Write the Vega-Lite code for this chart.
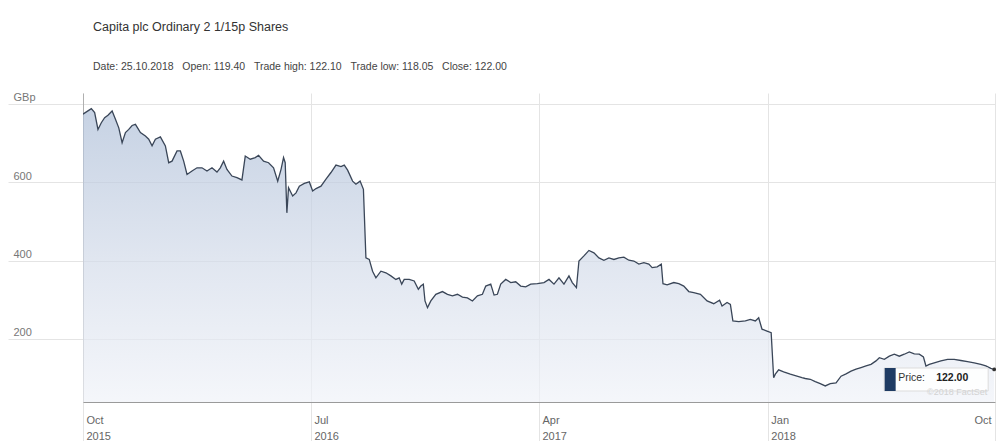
{
  "$schema": "https://vega.github.io/schema/vega-lite/v6.json",
  "width": 912,
  "height": 309,
  "padding": {"left": 7, "top": 20, "right": 2, "bottom": 0},
  "background": "white",
  "config": {"font": "Liberation Sans", "view": {"stroke": null}},
  "title": {
    "text": "\u00a0\u00a0Capita plc Ordinary 2 1/15p Shares",
    "subtitle": "Date: 25.10.2018\u00a0\u00a0\u00a0Open: 119.40\u00a0\u00a0\u00a0Trade high: 122.10\u00a0\u00a0\u00a0Trade low: 118.05\u00a0\u00a0\u00a0Close: 122.00",
    "anchor": "start",
    "frame": "group",
    "dx": 10,
    "offset": 19,
    "font": "Liberation Sans",
    "fontSize": 12.5,
    "fontWeight": "normal",
    "color": "#333333",
    "subtitleFont": "Liberation Sans",
    "subtitleFontSize": 10.5,
    "subtitleColor": "#444444",
    "subtitlePadding": 29
  },
  "data": {"values": [
    {"date": "2015-10-01", "price": 774}, {"date": "2015-10-11", "price": 788}, {"date": "2015-10-15", "price": 778},
    {"date": "2015-10-19", "price": 735}, {"date": "2015-10-23", "price": 752}, {"date": "2015-10-27", "price": 765},
    {"date": "2015-10-31", "price": 771}, {"date": "2015-11-05", "price": 782}, {"date": "2015-11-09", "price": 761},
    {"date": "2015-11-13", "price": 739}, {"date": "2015-11-17", "price": 701}, {"date": "2015-11-21", "price": 727},
    {"date": "2015-11-25", "price": 735}, {"date": "2015-11-29", "price": 745}, {"date": "2015-12-03", "price": 748},
    {"date": "2015-12-09", "price": 727}, {"date": "2015-12-15", "price": 718}, {"date": "2015-12-19", "price": 710},
    {"date": "2015-12-23", "price": 693}, {"date": "2015-12-27", "price": 710}, {"date": "2016-01-02", "price": 716},
    {"date": "2016-01-08", "price": 693}, {"date": "2016-01-12", "price": 650}, {"date": "2016-01-16", "price": 654},
    {"date": "2016-01-22", "price": 680}, {"date": "2016-01-26", "price": 680}, {"date": "2016-01-30", "price": 654},
    {"date": "2016-02-03", "price": 620}, {"date": "2016-02-09", "price": 629}, {"date": "2016-02-15", "price": 637},
    {"date": "2016-02-21", "price": 637}, {"date": "2016-02-27", "price": 629}, {"date": "2016-03-04", "price": 637},
    {"date": "2016-03-10", "price": 626}, {"date": "2016-03-14", "price": 637}, {"date": "2016-03-18", "price": 654},
    {"date": "2016-03-22", "price": 633}, {"date": "2016-03-28", "price": 616}, {"date": "2016-04-03", "price": 612},
    {"date": "2016-04-09", "price": 606}, {"date": "2016-04-13", "price": 667}, {"date": "2016-04-19", "price": 659},
    {"date": "2016-04-25", "price": 663}, {"date": "2016-04-29", "price": 669}, {"date": "2016-05-05", "price": 654},
    {"date": "2016-05-11", "price": 650}, {"date": "2016-05-17", "price": 637}, {"date": "2016-05-22", "price": 603},
    {"date": "2016-05-26", "price": 633}, {"date": "2016-05-29", "price": 663}, {"date": "2016-05-31", "price": 650},
    {"date": "2016-06-02", "price": 522}, {"date": "2016-06-04", "price": 586}, {"date": "2016-06-09", "price": 565},
    {"date": "2016-06-13", "price": 573}, {"date": "2016-06-17", "price": 590}, {"date": "2016-06-23", "price": 597},
    {"date": "2016-06-29", "price": 601}, {"date": "2016-07-03", "price": 578}, {"date": "2016-07-07", "price": 584},
    {"date": "2016-07-13", "price": 590}, {"date": "2016-07-19", "price": 608}, {"date": "2016-07-25", "price": 625},
    {"date": "2016-07-31", "price": 644}, {"date": "2016-08-06", "price": 640}, {"date": "2016-08-10", "price": 644},
    {"date": "2016-08-14", "price": 631}, {"date": "2016-08-20", "price": 603}, {"date": "2016-08-24", "price": 595},
    {"date": "2016-08-29", "price": 603}, {"date": "2016-09-02", "price": 582}, {"date": "2016-09-05", "price": 407},
    {"date": "2016-09-09", "price": 403}, {"date": "2016-09-13", "price": 373}, {"date": "2016-09-17", "price": 356},
    {"date": "2016-09-23", "price": 373}, {"date": "2016-09-29", "price": 369}, {"date": "2016-10-05", "price": 361},
    {"date": "2016-10-11", "price": 352}, {"date": "2016-10-15", "price": 356}, {"date": "2016-10-18", "price": 340},
    {"date": "2016-10-21", "price": 352}, {"date": "2016-10-27", "price": 352}, {"date": "2016-11-02", "price": 348},
    {"date": "2016-11-07", "price": 327}, {"date": "2016-11-10", "price": 335}, {"date": "2016-11-13", "price": 340},
    {"date": "2016-11-15", "price": 297}, {"date": "2016-11-18", "price": 280}, {"date": "2016-11-22", "price": 297},
    {"date": "2016-11-28", "price": 314}, {"date": "2016-12-06", "price": 321}, {"date": "2016-12-12", "price": 314},
    {"date": "2016-12-18", "price": 310}, {"date": "2016-12-24", "price": 314}, {"date": "2016-12-30", "price": 307},
    {"date": "2017-01-05", "price": 305}, {"date": "2017-01-11", "price": 297}, {"date": "2017-01-17", "price": 310},
    {"date": "2017-01-23", "price": 314}, {"date": "2017-01-27", "price": 335}, {"date": "2017-02-02", "price": 340},
    {"date": "2017-02-06", "price": 312}, {"date": "2017-02-10", "price": 314}, {"date": "2017-02-14", "price": 340},
    {"date": "2017-02-20", "price": 352}, {"date": "2017-02-26", "price": 344}, {"date": "2017-03-04", "price": 346},
    {"date": "2017-03-10", "price": 335}, {"date": "2017-03-16", "price": 333}, {"date": "2017-03-22", "price": 340},
    {"date": "2017-03-30", "price": 341}, {"date": "2017-04-07", "price": 344}, {"date": "2017-04-13", "price": 352},
    {"date": "2017-04-19", "price": 340}, {"date": "2017-04-25", "price": 356}, {"date": "2017-05-01", "price": 340},
    {"date": "2017-05-07", "price": 361}, {"date": "2017-05-11", "price": 344}, {"date": "2017-05-16", "price": 331},
    {"date": "2017-05-19", "price": 399}, {"date": "2017-05-25", "price": 412}, {"date": "2017-05-31", "price": 426},
    {"date": "2017-06-06", "price": 420}, {"date": "2017-06-12", "price": 407}, {"date": "2017-06-18", "price": 401},
    {"date": "2017-06-24", "price": 407}, {"date": "2017-06-30", "price": 403}, {"date": "2017-07-06", "price": 407},
    {"date": "2017-07-12", "price": 409}, {"date": "2017-07-18", "price": 401}, {"date": "2017-07-24", "price": 399},
    {"date": "2017-07-30", "price": 391}, {"date": "2017-08-05", "price": 395}, {"date": "2017-08-11", "price": 391},
    {"date": "2017-08-15", "price": 382}, {"date": "2017-08-21", "price": 384}, {"date": "2017-08-26", "price": 391},
    {"date": "2017-08-28", "price": 341}, {"date": "2017-09-02", "price": 338}, {"date": "2017-09-10", "price": 344},
    {"date": "2017-09-16", "price": 341}, {"date": "2017-09-22", "price": 335}, {"date": "2017-09-28", "price": 321},
    {"date": "2017-10-04", "price": 318}, {"date": "2017-10-12", "price": 314}, {"date": "2017-10-20", "price": 297},
    {"date": "2017-10-28", "price": 290}, {"date": "2017-11-04", "price": 299}, {"date": "2017-11-07", "price": 284},
    {"date": "2017-11-13", "price": 293}, {"date": "2017-11-17", "price": 288}, {"date": "2017-11-20", "price": 246},
    {"date": "2017-11-27", "price": 244}, {"date": "2017-12-05", "price": 246}, {"date": "2017-12-11", "price": 250},
    {"date": "2017-12-17", "price": 246}, {"date": "2017-12-21", "price": 254}, {"date": "2017-12-25", "price": 225},
    {"date": "2017-12-31", "price": 220}, {"date": "2018-01-05", "price": 216}, {"date": "2018-01-08", "price": 101},
    {"date": "2018-01-10", "price": 110}, {"date": "2018-01-14", "price": 121}, {"date": "2018-01-20", "price": 116},
    {"date": "2018-01-28", "price": 110}, {"date": "2018-02-05", "price": 105}, {"date": "2018-02-11", "price": 101},
    {"date": "2018-02-15", "price": 99}, {"date": "2018-02-21", "price": 97}, {"date": "2018-02-27", "price": 91},
    {"date": "2018-03-05", "price": 86}, {"date": "2018-03-11", "price": 80}, {"date": "2018-03-17", "price": 86},
    {"date": "2018-03-24", "price": 88}, {"date": "2018-03-30", "price": 105}, {"date": "2018-04-05", "price": 111},
    {"date": "2018-04-11", "price": 118}, {"date": "2018-04-17", "price": 123}, {"date": "2018-04-23", "price": 127},
    {"date": "2018-04-29", "price": 131}, {"date": "2018-05-05", "price": 135}, {"date": "2018-05-11", "price": 144},
    {"date": "2018-05-15", "price": 152}, {"date": "2018-05-21", "price": 148}, {"date": "2018-05-27", "price": 156},
    {"date": "2018-06-02", "price": 161}, {"date": "2018-06-08", "price": 156}, {"date": "2018-06-14", "price": 161},
    {"date": "2018-06-20", "price": 167}, {"date": "2018-06-26", "price": 162}, {"date": "2018-07-02", "price": 161},
    {"date": "2018-07-07", "price": 154}, {"date": "2018-07-10", "price": 131}, {"date": "2018-07-14", "price": 135},
    {"date": "2018-07-20", "price": 139}, {"date": "2018-07-28", "price": 144}, {"date": "2018-08-05", "price": 148},
    {"date": "2018-08-13", "price": 148}, {"date": "2018-08-21", "price": 145}, {"date": "2018-08-29", "price": 142},
    {"date": "2018-09-06", "price": 139}, {"date": "2018-09-14", "price": 135}, {"date": "2018-09-20", "price": 131},
    {"date": "2018-09-26", "price": 125}, {"date": "2018-09-30", "price": 122}
  ]},
  "encoding": {
    "x": {
      "field": "date", "type": "temporal",
      "scale": {"type": "utc", "domain": [{"year": 2015, "month": 10, "date": 1, "utc": true}, {"year": 2018, "month": 10, "date": 1, "utc": true}]},
      "axis": {
        "title": null,
        "values": [
          {"year": 2015, "month": 10, "date": 1, "utc": true},
          {"year": 2016, "month": 7, "date": 1, "utc": true},
          {"year": 2017, "month": 4, "date": 1, "utc": true},
          {"year": 2018, "month": 1, "date": 1, "utc": true},
          {"year": 2018, "month": 10, "date": 1, "utc": true}
        ],
        "labelExpr": "datum.value > 1530000000000 ? 'Oct' : [utcFormat(datum.value, '%b'), utcFormat(datum.value, '%Y')]",
        "grid": true,
        "gridColor": "#e4e4e4",
        "tickColor": "#e4e4e4",
        "tickSize": 40,
        "domainColor": "#9a9a9a",
        "labelAlign": {"condition": {"test": "datum.value > 1530000000000", "value": "right"}, "value": "left"},
        "labelOffset": {"condition": {"test": "datum.value > 1530000000000", "value": -4}, "value": 3},
        "labelBaseline": "top",
        "labelPadding": -28,
        "labelLineHeight": 16,
        "labelFontSize": 11,
        "labelColor": "#666666",
        "labelFlush": false,
        "labelOverlap": false,
        "labelBound": false
      }
    },
    "y": {
      "field": "price", "type": "quantitative",
      "scale": {"domain": [39, 828], "nice": false, "zero": false},
      "axis": {
        "title": null,
        "values": [200, 400, 600, 800],
        "labelExpr": "datum.value == 800 ? 'GBp' : datum.label",
        "grid": true,
        "gridColor": "#e4e4e4",
        "tickColor": "#e4e4e4",
        "tickSize": 75,
        "domainColor": "#b0b0b0",
        "labelAlign": "left",
        "labelBaseline": "bottom",
        "labelPadding": -5,
        "labelOffset": -1,
        "labelFontSize": 11,
        "labelColor": "#777777"
      }
    }
  },
  "layer": [
    {
      "mark": {
        "type": "area",
        "interpolate": "linear",
        "clip": true,
        "color": {
          "gradient": "linear", "x1": 0, "y1": 0, "x2": 0, "y2": 1,
          "stops": [{"offset": 0, "color": "#aebfd8"}, {"offset": 0.5, "color": "#d4dcea"}, {"offset": 1, "color": "#f3f5fa"}]
        },
        "line": {"color": "#3a4658", "strokeWidth": 1.3}
      }
    },
    {
      "transform": [{"filter": {"field": "date", "equal": {"year": 2018, "month": 9, "date": 30, "utc": true}}}],
      "layer": [
        {"mark": {"type": "point", "shape": "M-4.52,-1L4.52,-1L4.52,1L-4.52,1Z", "size": 529, "filled": false, "stroke": "#dcdcdc", "strokeWidth": 1, "fill": "white", "fillOpacity": 0.85, "opacity": 1, "xOffset": -58, "yOffset": 10}},
        {"mark": {"type": "point", "shape": "M-0.478,-1L0.478,-1L0.478,1L-0.478,1Z", "size": 529, "filled": true, "color": "#1f3b63", "opacity": 1, "xOffset": -104, "yOffset": 10}},
        {"mark": {"type": "text", "text": "©2018 FactSet", "align": "right", "baseline": "middle", "dx": -7, "dy": 23, "fontSize": 9, "color": "#d2d2d2"}},
        {"mark": {"type": "text", "text": "Price:", "align": "left", "baseline": "middle", "dx": -96, "dy": 9, "fontSize": 10.5, "color": "#333333"}},
        {"mark": {"type": "text", "align": "left", "baseline": "middle", "dx": -58, "dy": 9, "fontSize": 10.5, "fontWeight": "bold", "color": "#222222"}, "encoding": {"text": {"field": "price", "type": "quantitative", "format": ".2f"}}},
        {"mark": {"type": "point", "filled": true, "size": 14, "color": "#333333", "opacity": 1}}
      ]
    }
  ]
}
